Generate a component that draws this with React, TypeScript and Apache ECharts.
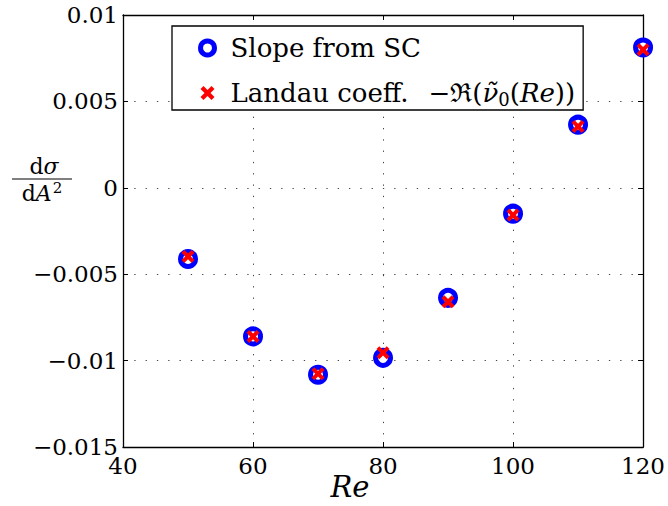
import React, { useEffect, useRef } from "react";
import * as echarts from "echarts";

const reValues = [50, 60, 70, 80, 90, 100, 110, 120];
const slopeSC = [-0.00412, -0.0086, -0.01082, -0.00984, -0.00637, -0.0015, 0.00365, 0.00812];
const landauCoeff = [-0.00397, -0.0086, -0.01076, -0.00955, -0.0066, -0.00158, 0.00355, 0.00799];
const xTickLabels = ["40", "60", "80", "100", "120"];
const yTickLabels = ["−0.015", "−0.01", "−0.005", "0", "0.005", "0.01"];

const X_MIN = 40, X_MAX = 120, X_INT = 20;
const Y_MIN = -0.015, Y_MAX = 0.01, Y_INT = 0.005;

const SERIF = "DejaVu Serif";
const CROSS = "path://M0,3L3,0L7,4L11,0L14,3L10,7L14,11L11,14L7,10L3,14L0,11L4,7Z";

export default function App() {
  const ref = useRef<HTMLDivElement>(null);
  useEffect(() => {
    if (!ref.current) return;
    const chart = echarts.init(ref.current, undefined, { renderer: "svg" });
    const xFmt = (v: number) => xTickLabels[Math.round((v - X_MIN) / X_INT)] ?? "";
    const yFmt = (v: number) => yTickLabels[Math.round((v - Y_MIN) / Y_INT)] ?? "";
    const grid = { left: 123, right: 24, top: 15, bottom: 59 };
    const tick = { show: true, inside: true, length: 5, lineStyle: { color: "#000", width: 1 } };
    const axisLine = { show: true, onZero: false, lineStyle: { color: "#000", width: 1.3 } };
    const split = { show: true, lineStyle: { color: "#444", width: 1, type: [1.3, 10] as any } };
    const option: any = {
      animation: false,
      backgroundColor: "#fff",
      textStyle: { fontFamily: SERIF },
      grid,
      xAxis: [
        {
          type: "value", min: X_MIN, max: X_MAX, interval: X_INT, position: "bottom",
          axisLine, axisTick: tick, splitLine: split,
          axisLabel: { formatter: xFmt, color: "#000", fontFamily: SERIF, fontSize: 23, lineHeight: 18, margin: 10 },
        },
        {
          type: "value", min: X_MIN, max: X_MAX, interval: X_INT, position: "top",
          axisLine, axisTick: tick, splitLine: { show: false }, axisLabel: { show: false },
        },
      ],
      yAxis: [
        {
          type: "value", min: Y_MIN, max: Y_MAX, interval: Y_INT, position: "left",
          axisLine, axisTick: tick, splitLine: split,
          axisLabel: { formatter: yFmt, color: "#000", fontFamily: SERIF, fontSize: 23, lineHeight: 18, margin: 5 },
        },
        {
          type: "value", min: Y_MIN, max: Y_MAX, interval: Y_INT, position: "right",
          axisLine, axisTick: tick, splitLine: { show: false }, axisLabel: { show: false },
        },
      ],
      legend: {
        left: 172, top: 26, orient: "vertical",
        backgroundColor: "#fff", borderColor: "#000", borderWidth: 1.3, borderRadius: 0,
        padding: [8, 8, 2, 26], itemGap: 17, itemWidth: 14, itemHeight: 14,
        data: [
          { name: "Slope from SC", icon: "circle", itemStyle: { color: "#fff", borderColor: "#0000ff", borderWidth: 5 } },
          { name: "Landau coeff.", icon: CROSS, itemStyle: { color: "#ff0000", borderWidth: 0 } },
        ],
        formatter: (name: string) =>
          name === "Landau coeff."
            ? "{n|Landau coeff.}{g| }{m|−ℜ(}{i|ν̃}{s|0}{m|(}{i|Re}{m|))}"
            : "{n|" + name + "}",
        textStyle: {
          color: "#000", fontFamily: SERIF, fontSize: 26, lineHeight: 28, padding: [0, 0, 0, 11],
          rich: {
            n: { fontFamily: SERIF, fontSize: 26, color: "#000" },
            g: { fontFamily: SERIF, fontSize: 26, width: 20 },
            m: { fontFamily: SERIF, fontSize: 26, color: "#000" },
            i: { fontFamily: SERIF, fontSize: 26, fontStyle: "italic", color: "#000" },
            s: { fontFamily: SERIF, fontSize: 18, color: "#000", padding: [12, 0, 0, 0] },
          },
        },
      },
      graphic: [
        {
          type: "text", x: 44, y: 166,
          style: {
            text: "{u|d}{i|σ}", align: "center", verticalAlign: "middle",
            rich: {
              u: { fontFamily: SERIF, fontSize: 22, fill: "#000" },
              i: { fontFamily: SERIF, fontSize: 22, fontStyle: "italic", fill: "#000" },
            },
          },
        },
        { type: "line", shape: { x1: 12, y1: 179, x2: 72, y2: 179 }, style: { stroke: "#000", lineWidth: 1 } },
        {
          type: "text", x: 42, y: 193,
          style: {
            text: "{u|d}{i|A}{s|2}", align: "center", verticalAlign: "middle",
            rich: {
              u: { fontFamily: SERIF, fontSize: 22, fill: "#000" },
              i: { fontFamily: SERIF, fontSize: 22, fontStyle: "italic", fill: "#000" },
              s: { fontFamily: SERIF, fontSize: 15, fill: "#000", padding: [0, 0, 10, 1] },
            },
          },
        },
        {
          type: "text", x: 350, y: 487,
          style: {
            text: "Re", align: "center", verticalAlign: "middle",
            fontFamily: SERIF, fontSize: 29, lineHeight: 28, fontStyle: "italic", fill: "#000",
          },
        },
      ],
      series: [
        {
          name: "Slope from SC", type: "scatter", symbol: "circle", symbolSize: 15,
          itemStyle: { color: "#fff", borderColor: "#0000ff", borderWidth: 5, opacity: 1 },
          data: reValues.map((x, i) => [x, slopeSC[i]]), z: 3,
        },
        {
          name: "Landau coeff.", type: "scatter", symbol: CROSS, symbolSize: 13,
          itemStyle: { color: "#ff0000", opacity: 1 },
          data: reValues.map((x, i) => [x, landauCoeff[i]]), z: 4,
        },
      ],
    };
    chart.setOption(option);
    return () => chart.dispose();
  }, []);
  return (
    <div
      ref={ref}
      style={{ position: "fixed", left: 0, top: 0, width: 668, height: 506, background: "#fff" }}
    />
  );
}
